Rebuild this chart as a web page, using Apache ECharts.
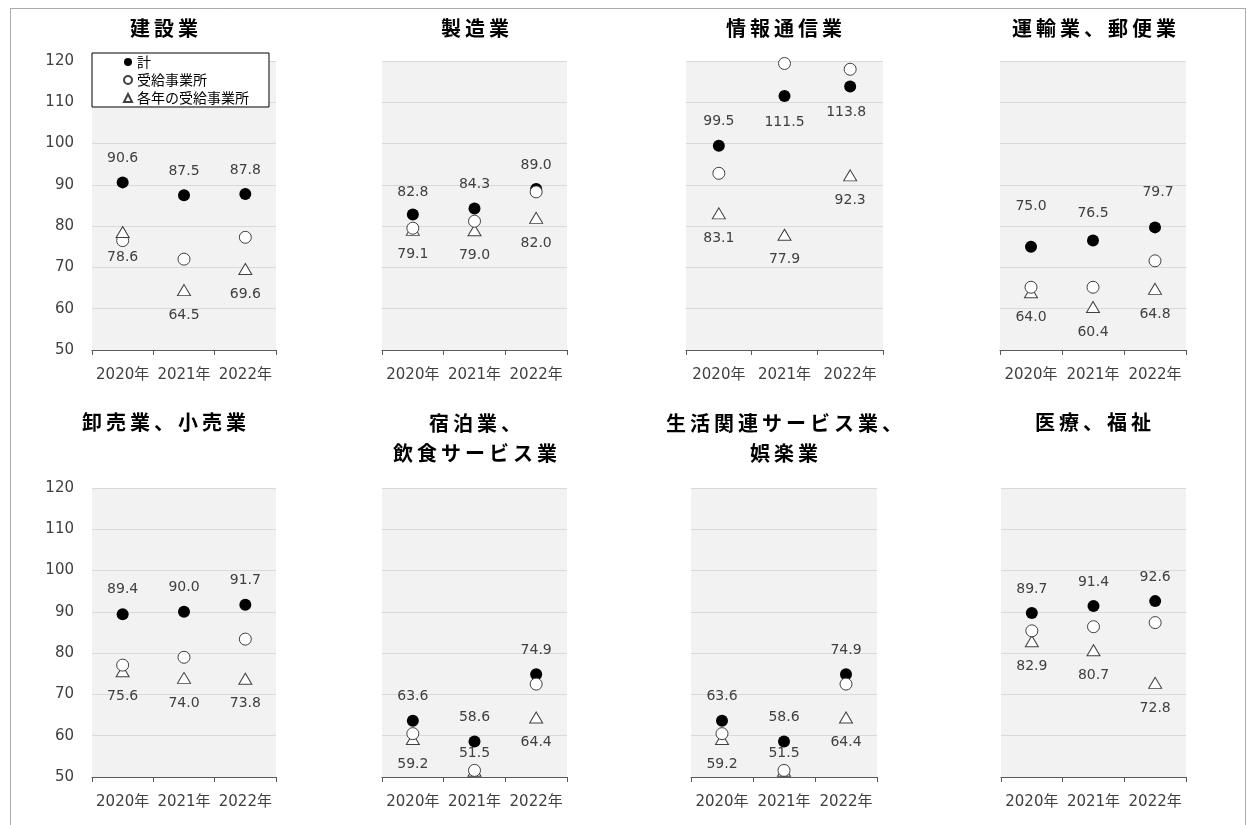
<!DOCTYPE html>
<html>
<head>
<meta charset="utf-8">
<script src="https://cdn.jsdelivr.net/npm/echarts@6/dist/echarts.min.js"></script>
<style>
  html, body { margin: 0; padding: 0; background: #ffffff; }
  #chart { width: 1249px; height: 825px; }
</style>
</head>
<body>
<div id="chart"></div>
<script>
// Categories and panel titles
const years = ['2020年', '2021年', '2022年'];
const industries = [
  '建設業', '製造業', '情報通信業', '運輸業、郵便業',
  '卸売業、小売業', '宿泊業、\n飲食サービス業', '生活関連サービス業、\n娯楽業', '医療、福祉'
];

// Series values, one row per industry (2020, 2021, 2022)
const totalIndex = [
  [90.6, 87.5, 87.8], [82.8, 84.3, 89.0], [99.5, 111.5, 113.8], [75.0, 76.5, 79.7],
  [89.4, 90.0, 91.7], [63.6, 58.6, 74.9], [63.6, 58.6, 74.9], [89.7, 91.4, 92.6]
];
const recipientIndex = [
  [76.5, 72.0, 77.3], [79.5, 81.2, 88.3], [92.8, 119.4, 118.0], [65.2, 65.2, 71.6],
  [77.1, 79.0, 83.4], [60.5, 51.6, 72.5], [60.5, 51.6, 72.5], [85.4, 86.4, 87.4]
];
const yearlyRecipientIndex = [
  [78.6, 64.5, 69.6], [79.1, 79.0, 82.0], [83.1, 77.9, 92.3], [64.0, 60.4, 64.8],
  [75.6, 74.0, 73.8], [59.2, 51.5, 64.4], [59.2, 51.5, 64.4], [82.9, 80.7, 72.8]
];
const seriesNames = ['計', '受給事業所', '各年の受給事業所'];

// Value axis ticks
const yMin = 50;
const yMax = 120;
const yStep = 10;

// Panel frames (plot rectangles and title anchors)
const panels = [
  { left: 92,   top: 61,  width: 184, tx: 164,  ty: 28,  yLabels: true },
  { left: 382,  top: 61,  width: 185, tx: 475,  ty: 28,  yLabels: false },
  { left: 686,  top: 61,  width: 197, tx: 784,  ty: 28,  yLabels: false },
  { left: 1000, top: 61,  width: 186, tx: 1094, ty: 28,  yLabels: false },
  { left: 92,   top: 488, width: 184, tx: 164,  ty: 422, yLabels: true },
  { left: 382,  top: 488, width: 185, tx: 475,  ty: 438, yLabels: false },
  { left: 691,  top: 488, width: 186, tx: 784,  ty: 438, yLabels: false },
  { left: 1001, top: 488, width: 185, tx: 1093, ty: 422, yLabels: false }
];
const plotHeight = 289;

// Data-label placement: key = panel-series-point, value = [dx, dy] from the marker centre
const labelShift = {
  '1-0-0': [0, -22],
  '2-0-1': [0, 26], '2-0-2': [-4, 26],
  '3-0-0': [0, -40], '3-0-1': [0, -27], '3-0-2': [3, -35],
  '4-0-0': [0, -25],
  '5-2-1': [0, -17], '6-2-1': [0, -17]
};

const numFont = "'DejaVu Sans', 'Noto Sans CJK JP', sans-serif";
const cjkFont = "'Noto Sans CJK JP', sans-serif";
const textGray = '#404040';

// Title text laid out one glyph per fixed-width cell (wide tracking)
function trackedTitle(str) {
  return str.split('\n').map(line =>
    Array.from(line).map(ch => '{c|' + ch + '}').join('')
  ).join('\n');
}

const grids = [], xAxes = [], yAxes = [], series = [], graphics = [];

panels.forEach((p, i) => {
  grids.push({
    left: p.left, top: p.top, width: p.width, height: plotHeight,
    show: true, backgroundColor: '#f2f2f2', borderWidth: 0
  });
  xAxes.push({
    type: 'category', gridIndex: i, data: years, boundaryGap: true,
    axisLine: { lineStyle: { color: '#595959', width: 1 } },
    axisTick: { show: true, length: 5, lineStyle: { color: '#595959' } },
    axisLabel: { interval: 0, hideOverlap: false, fontSize: 15, color: textGray, fontFamily: numFont, margin: 18 },
    splitLine: { show: false }
  });
  yAxes.push({
    type: 'value', gridIndex: i, min: yMin, max: yMax, interval: yStep,
    axisLine: { show: false }, axisTick: { show: false },
    axisLabel: { show: p.yLabels, fontSize: 15, color: textGray, fontFamily: numFont, margin: 18 },
    splitLine: { show: true, lineStyle: { color: '#d9d9d9', width: 1 } }
  });

  const makeData = (values, s, labelled, defShift) => values.map((v, k) => {
    const item = { value: v };
    if (labelled) {
      const sh = labelShift[i + '-' + s + '-' + k] || defShift;
      item.label = { offset: sh };
    }
    return item;
  });

  const labelBase = {
    show: true, position: 'inside', fontSize: 14, color: textGray, fontFamily: numFont,
    formatter: (d) => d.value.toFixed(1)
  };

  // 計
  series.push({
    name: seriesNames[0], type: 'scatter', xAxisIndex: i, yAxisIndex: i,
    symbol: 'circle', symbolSize: 12, z: 2,
    itemStyle: { color: '#000000', opacity: 1 },
    label: labelBase,
    data: makeData(totalIndex[i], 0, true, [0, -24])
  });
  // 受給事業所
  series.push({
    name: seriesNames[1], type: 'scatter', xAxisIndex: i, yAxisIndex: i,
    symbol: 'circle', symbolSize: 12, z: 4,
    itemStyle: { color: '#ffffff', borderColor: '#404040', borderWidth: 1, opacity: 1 },
    label: { show: false },
    data: makeData(recipientIndex[i], 1, false)
  });
  // 各年の受給事業所
  series.push({
    name: seriesNames[2], type: 'scatter', xAxisIndex: i, yAxisIndex: i,
    symbol: 'triangle', symbolSize: [13, 11], z: i === 0 ? 5 : 3,
    itemStyle: { color: '#ffffff', borderColor: '#404040', borderWidth: 1, opacity: 1 },
    label: labelBase,
    data: makeData(yearlyRecipientIndex[i], 2, true, [0, 25])
  });

  graphics.push({
    type: 'text', x: p.tx, y: p.ty, silent: true,
    style: {
      text: trackedTitle(industries[i]), fill: '#000000',
      font: 'bold 20px ' + cjkFont,
      align: 'center', verticalAlign: 'middle', lineHeight: 30,
      rich: {
        c: { width: 24, align: 'center', fontSize: 20, fontWeight: 'bold', fontFamily: cjkFont, fill: '#000000', lineHeight: 30 }
      }
    }
  });
});

// Dotted outer frame
graphics.push({
  type: 'rect', silent: true, z: -10,
  shape: { x: 10.5, y: 8.5, width: 1235, height: 830 },
  style: { fill: null, stroke: '#555555', lineWidth: 1, lineDash: [1, 1] }
});

const chart = echarts.init(document.getElementById('chart'), null, { renderer: 'canvas' });
chart.setOption({
  animation: false,
  backgroundColor: '#ffffff',
  grid: grids,
  xAxis: xAxes,
  yAxis: yAxes,
  series: series,
  graphic: graphics,
  legend: {
    data: seriesNames,
    orient: 'vertical', left: 92, top: 53,
    padding: [2, 20, 2, 31],
    itemWidth: 8, itemHeight: 8, itemGap: 4,
    backgroundColor: '#ffffff', borderColor: '#000000', borderWidth: 1, borderRadius: 0,
    selectedMode: false,
    textStyle: { fontSize: 14, color: '#000000', fontFamily: cjkFont },
    z: 10
  }
});
</script>
</body>
</html>
